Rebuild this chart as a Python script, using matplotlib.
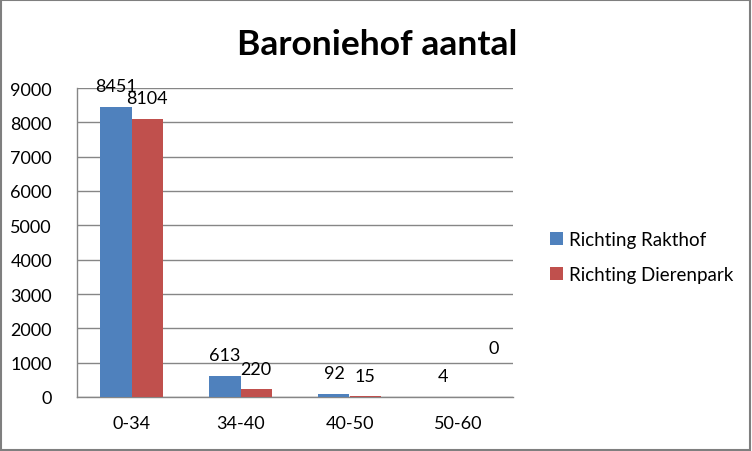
import matplotlib
matplotlib.use("Agg")
import matplotlib.pyplot as plt
import numpy as np
from matplotlib.patches import Rectangle

categories = ["0-34", "34-40", "40-50", "50-60"]
rakthof = [8451, 613, 92, 4]
dierenpark = [8104, 220, 15, 0]
series_names = ["Richting Rakthof", "Richting Dierenpark"]
yticks = [0, 1000, 2000, 3000, 4000, 5000, 6000, 7000, 8000, 9000]

BLUE = "#4F81BD"
RED = "#C0504D"
GRID = "#868686"

plt.rcParams["font.family"] = ["Lato", "DejaVu Sans"]

W, H = 752, 452
fig = plt.figure(figsize=(W / 100, H / 100), dpi=100)
ax = fig.add_axes([77 / W, 1 - 398 / H, 436 / W, 309 / H])

x = np.arange(len(categories))
bw = 0.285
b1 = ax.bar(x - bw / 2, rakthof, bw, color=BLUE, label=series_names[0], zorder=3)
b2 = ax.bar(x + bw / 2, dierenpark, bw, color=RED, label=series_names[1], zorder=3)

for bars, vals in ((b1, rakthof), (b2, dierenpark)):
    for rect, v in zip(bars, vals):
        dx, dy = 0, 15
        if v == 0:
            # Excel put this one oddly high and to the right
            dx, dy = 14, 35
        ax.annotate(str(v), (rect.get_x() + rect.get_width() / 2, v),
                    xytext=(dx, dy), textcoords="offset points",
                    ha="center", va="center", fontsize=13, color="black", zorder=4)

ax.set_xlim(-0.5, len(categories) - 0.5)
ax.set_ylim(0, 9000)
ax.set_yticks(yticks)
ax.set_xticks(x)
ax.set_xticklabels(categories)
ax.tick_params(axis="both", length=0, labelsize=13)
ax.tick_params(axis="y", pad=18)
ax.tick_params(axis="x", pad=13)
ax.yaxis.grid(True, color=GRID, linewidth=1, zorder=0)
for s in ("top", "right"):
    ax.spines[s].set_visible(False)
for s in ("left", "bottom"):
    ax.spines[s].set_color(GRID)
    ax.spines[s].set_linewidth(1)

fig.text(377 / W, 1 - 45 / H, "Baroniehof aantal", ha="center", va="center",
         fontsize=25.5, fontweight="bold")

fig.legend(handles=[b1, b2], labels=series_names, loc="center left",
           bbox_to_anchor=(533 / W, 1 - 258 / H), frameon=False, fontsize=13.5,
           handlelength=0.7, handleheight=0.7, handletextpad=0.3,
           labelspacing=1.0)

fig.patches.append(Rectangle((0.001, 0.002), 0.997, 0.995, transform=fig.transFigure,
                             fill=False, edgecolor="#7F7F7F", linewidth=1.5))

fig.savefig("out.png", dpi=100)
